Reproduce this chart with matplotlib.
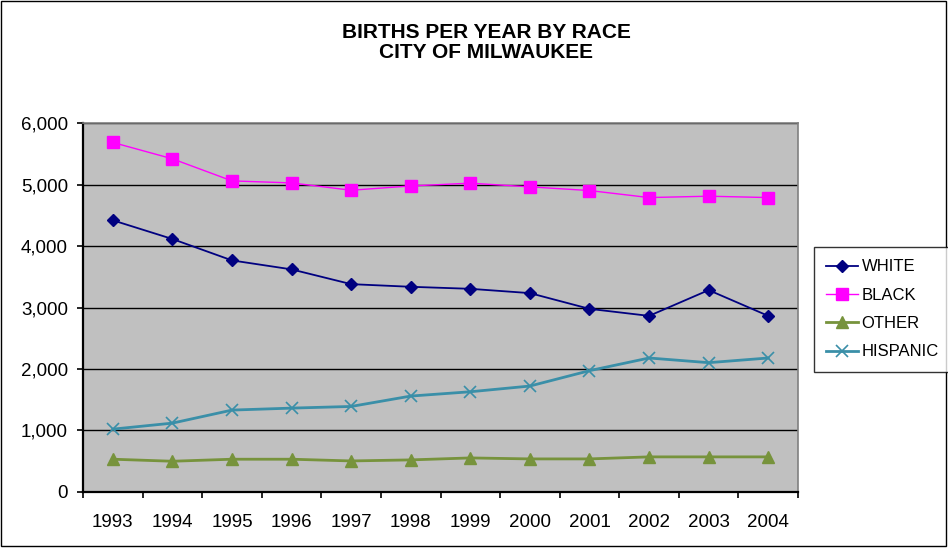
import numpy as np
import matplotlib.pyplot as plt
from matplotlib.patches import Rectangle

plt.rcParams['font.family'] = ['Liberation Sans', 'DejaVu Sans']

# --- data ---
years = ['1993', '1994', '1995', '1996', '1997', '1998',
         '1999', '2000', '2001', '2002', '2003', '2004']
white = [4418, 4114, 3766, 3620, 3380, 3337, 3304, 3234, 2978, 2864, 3283, 2864]
black = [5684, 5418, 5059, 5026, 4907, 4977, 5022, 4962, 4902, 4788, 4810, 4788]
other = [533, 500, 533, 533, 505, 522, 554, 538, 538, 571, 571, 571]
hispanic = [1022, 1120, 1332, 1364, 1391, 1560, 1630, 1723, 1973, 2179, 2103, 2179]
y_ticks = [0, 1000, 2000, 3000, 4000, 5000, 6000]

fig = plt.figure(figsize=(9.48, 5.48), dpi=100)
ax = fig.add_axes([0.0876, 0.1022, 0.7542, 0.6733])
ax.set_facecolor('#C0C0C0')

x = np.arange(len(years))
ax.plot(x, white, color='#000080', lw=1.3, marker='D', ms=6.5, label='WHITE')
ax.plot(x, black, color='#FF00FF', lw=1.0, marker='s', ms=8, label='BLACK')
ax.plot(x, other, color='#77933C', lw=2.0, marker='^', ms=8, label='OTHER')
ax.plot(x, hispanic, color='#3A8FA8', lw=2.0, marker='x', ms=8, mew=1.2, label='HISPANIC')

ax.set_xlim(-0.5, len(years) - 0.5)
ax.set_ylim(0, 6000)
ax.set_yticks(y_ticks)
ax.set_yticklabels([f'{v:,}' for v in y_ticks])
ax.yaxis.grid(True, color='black', lw=1.0)
ax.set_axisbelow(True)

# category labels centred, tick marks on the category boundaries
ax.set_xticks(x)
ax.set_xticklabels(years)
ax.set_xticks(np.arange(-0.5, len(years)), minor=True)
ax.tick_params(axis='x', which='major', length=0, pad=16, labelsize=13.5)
ax.tick_params(axis='x', which='minor', length=4.3, width=1.2, direction='out')
ax.tick_params(axis='y', length=4.3, width=1.2, pad=6.5, labelsize=13.5)

for side in ['left', 'bottom']:
    ax.spines[side].set_linewidth(1.6)
    ax.spines[side].set_color('black')
for side in ['top', 'right']:
    ax.spines[side].set_linewidth(1.2)
    ax.spines[side].set_color('#808080')

fig.text(0.513, 0.9301, 'BIRTHS PER YEAR BY RACE', ha='center', va='baseline',
         fontsize=15, fontweight='bold')
fig.text(0.513, 0.8936, 'CITY OF MILWAUKEE', ha='center', va='baseline',
         fontsize=15, fontweight='bold')

leg = fig.legend(loc='upper left', bbox_to_anchor=(0.8586, 0.5493), fontsize=12,
                 frameon=True, fancybox=False, edgecolor='black',
                 handlelength=1.9, handletextpad=0.2, labelspacing=0.8,
                 borderpad=0.75, borderaxespad=0)
leg.get_frame().set_linewidth(1.0)

# outer chart border
fig.patches.append(Rectangle((0.001, 0.003), 0.997, 0.995, transform=fig.transFigure,
                             fill=False, edgecolor='black', lw=1.0))

fig.savefig('out.png', dpi=100)
